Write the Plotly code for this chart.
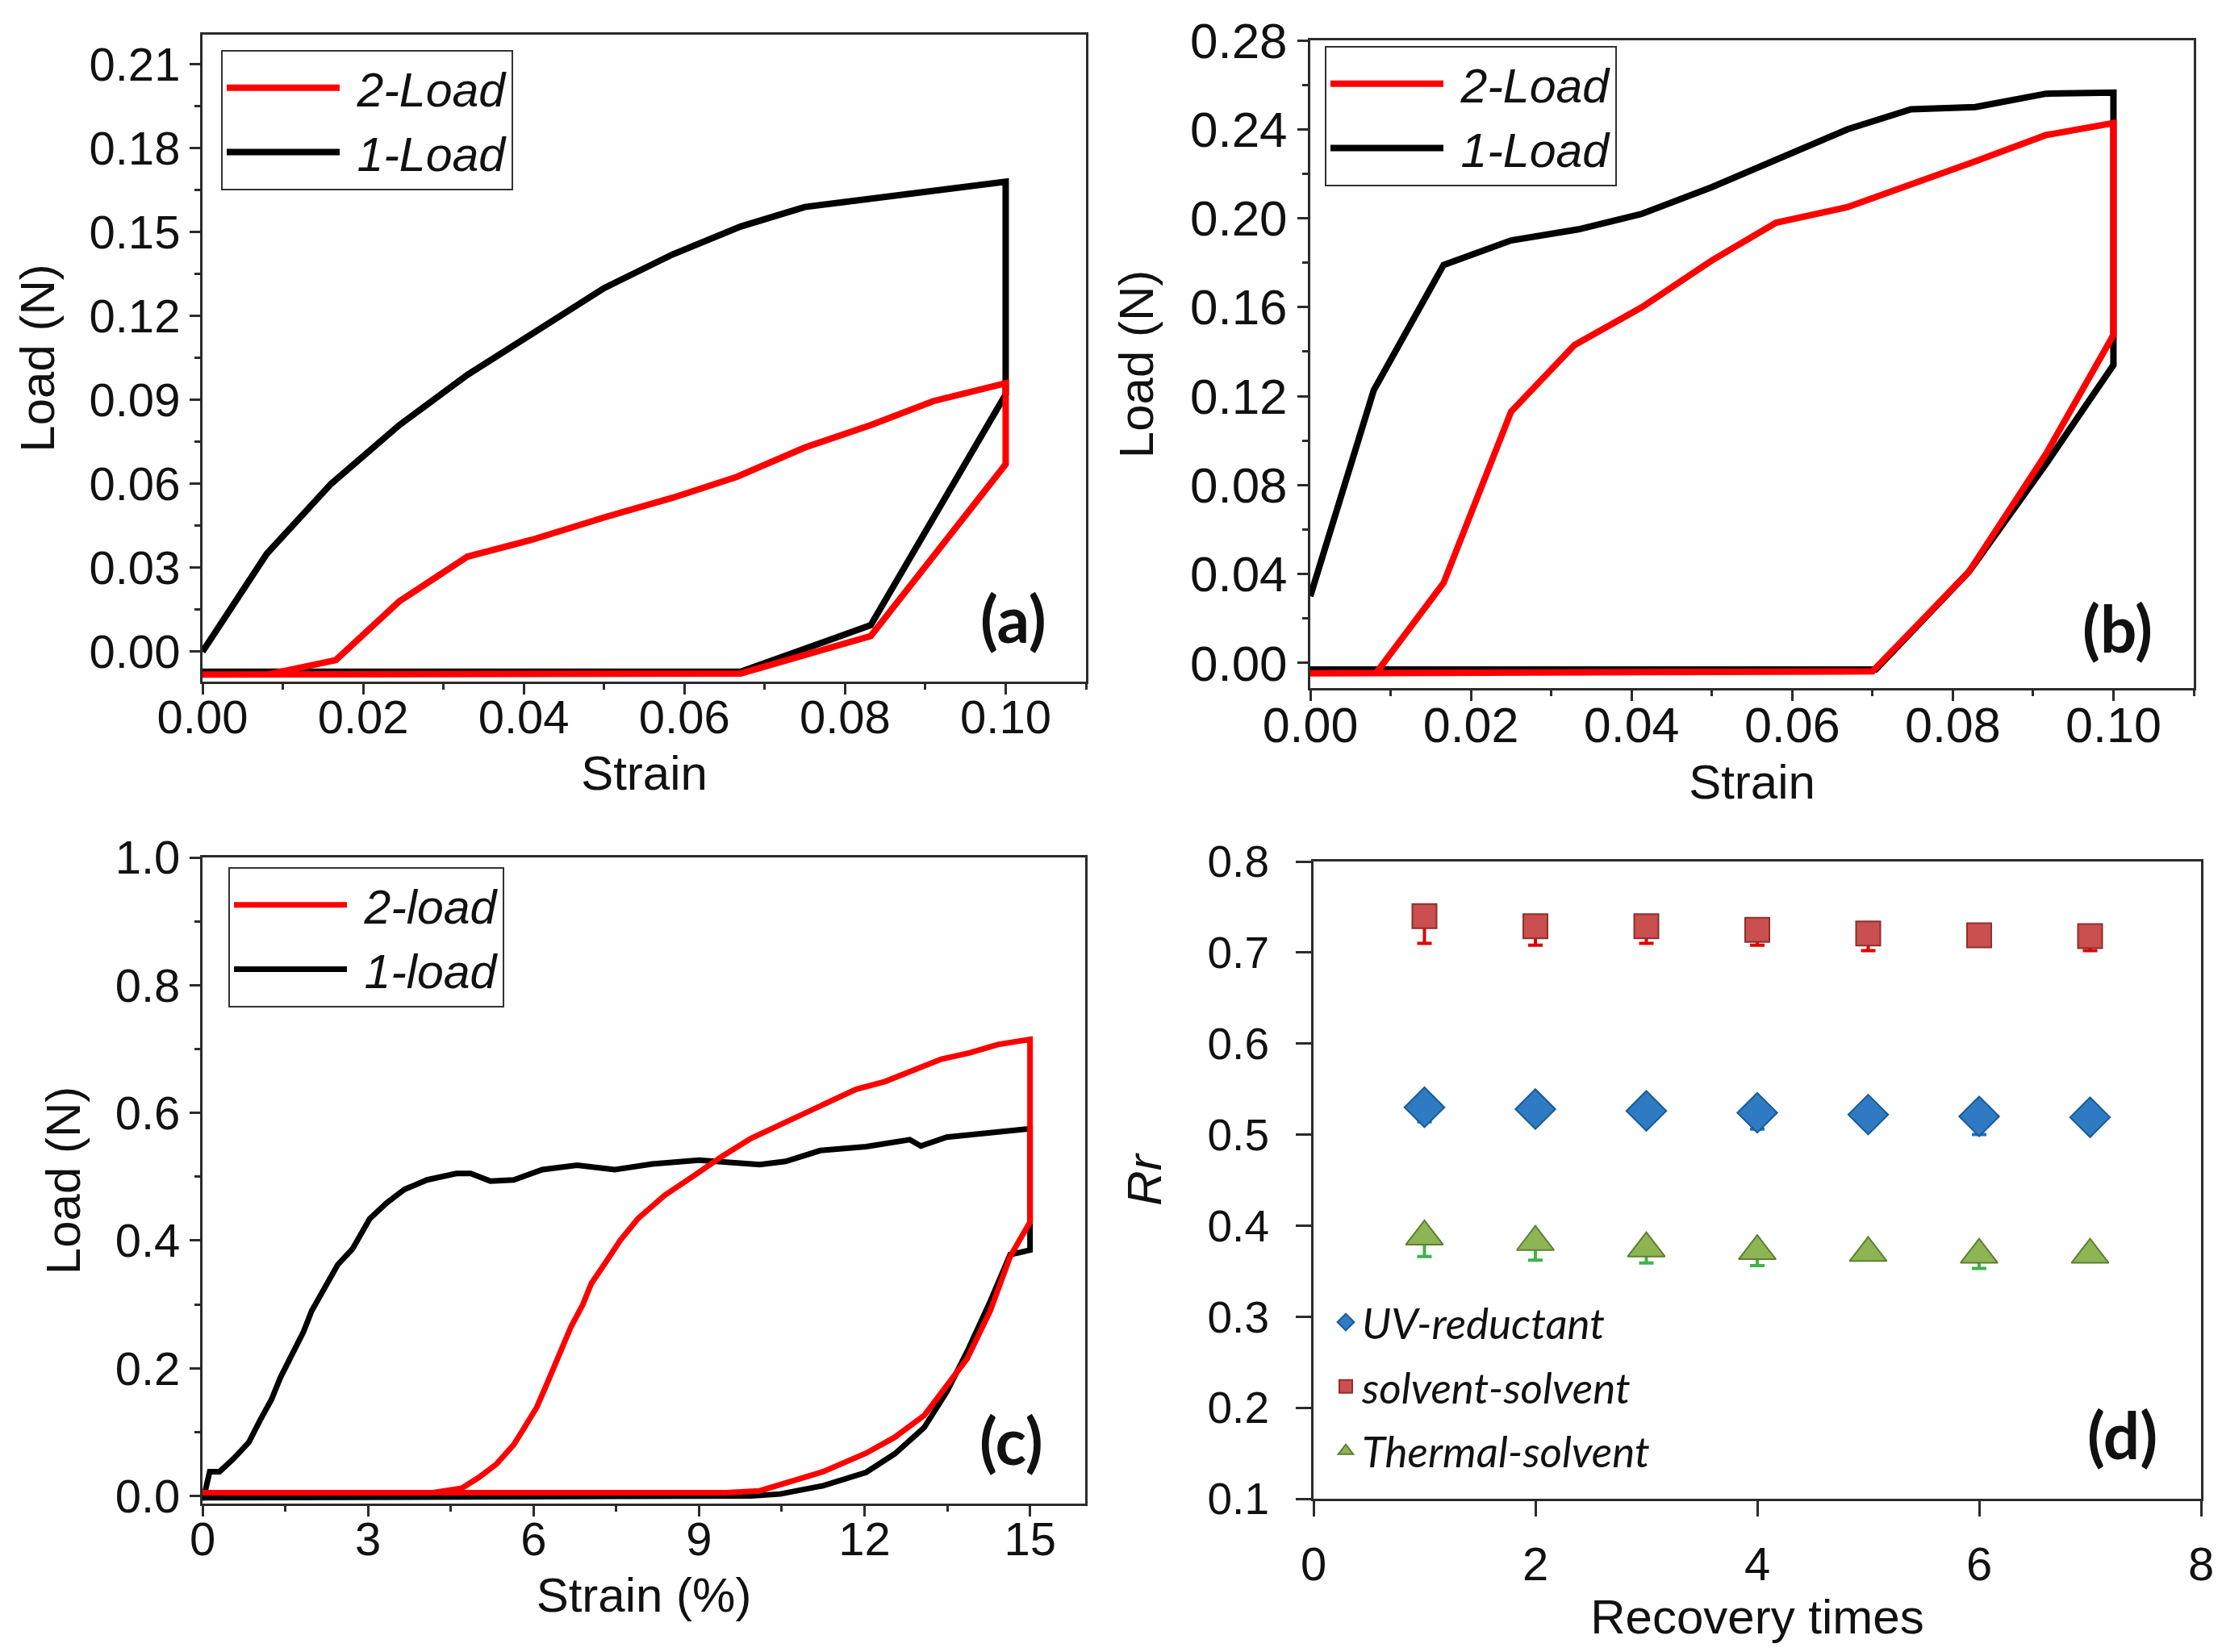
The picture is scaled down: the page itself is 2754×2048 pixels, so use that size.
import plotly.graph_objects as go

W, H = 2754, 2048

# ---------------- (a) ----------------
a_strain_1 = [0, 0.008, 0.016, 0.0245, 0.033, 0.0417, 0.050, 0.0585, 0.067, 0.075, 0.083, 0.091, 0.0995,
              0.100, 0.100, 0.0832, 0.067, 0.050, 0.0]
a_load_1 = [0, 0.035, 0.060, 0.081, 0.099, 0.115, 0.130, 0.142, 0.152, 0.159, 0.162, 0.165, 0.168,
            0.168, 0.092, 0.0095, -0.0072, -0.0072, -0.0072]
a_strain_2 = [0, 0.008, 0.0166, 0.0245, 0.033, 0.041, 0.050, 0.0585, 0.0665, 0.075, 0.0832, 0.091, 0.100,
              0.100, 0.0832, 0.067, 0.0]
a_load_2 = [-0.0082, -0.0082, -0.003, 0.018, 0.034, 0.040, 0.048, 0.055, 0.0625, 0.073, 0.081, 0.0896, 0.096,
            0.067, 0.0056, -0.0078, -0.0082]

# ---------------- (b) ----------------
b_strain_1 = [0, 0.0079, 0.0166, 0.025, 0.0334, 0.0413, 0.050, 0.0585, 0.0669, 0.0748, 0.0828, 0.0916, 0.100,
              0.100, 0.0916, 0.082, 0.0704, 0.0]
b_load_1 = [0.030, 0.1226, 0.179, 0.190, 0.195, 0.202, 0.214, 0.227, 0.240, 0.249, 0.250, 0.256, 0.2565,
            0.134, 0.0895, 0.041, -0.003, -0.003]
b_strain_2 = [0, 0.0082, 0.0166, 0.025, 0.0329, 0.0413, 0.050, 0.058, 0.0669, 0.0748, 0.0828, 0.0916, 0.100,
              0.100, 0.0916, 0.082, 0.070, 0.0]
b_load_2 = [-0.0047, -0.0045, 0.036, 0.113, 0.143, 0.160, 0.181, 0.198, 0.205, 0.215, 0.2256, 0.2374, 0.2428,
            0.1475, 0.094, 0.041, -0.0038, -0.0047]

# ---------------- (c) ----------------
c_strain_1 = [0, 0.05, 0.13, 0.31, 0.57, 0.84, 1.04, 1.25, 1.41, 1.62, 1.83, 1.98, 2.19, 2.45, 2.72, 3.03,
              3.34, 3.66, 4.07, 4.60, 4.86, 5.22, 5.64, 6.16, 6.79, 7.47, 8.15, 9.00, 10.10, 10.57, 11.20,
              12.03, 12.82, 13.02, 13.49, 14.12, 14.93, 15.0,
              15.0, 14.64, 14.28, 13.86, 13.49, 13.08, 12.55, 12.03, 11.25, 10.47, 9.94, 0.0]
c_load_1 = [0.0, 0.008, 0.038, 0.038, 0.059, 0.084, 0.118, 0.151, 0.185, 0.219, 0.257, 0.290, 0.324, 0.362,
            0.387, 0.434, 0.459, 0.480, 0.495, 0.505, 0.505, 0.493, 0.495, 0.511, 0.518, 0.511, 0.520, 0.526,
            0.519, 0.524, 0.541, 0.547, 0.558, 0.548, 0.562, 0.568, 0.575, 0.575,
            0.385, 0.378, 0.305, 0.226, 0.163, 0.107, 0.066, 0.037, 0.016, 0.003, 0.0, -0.003]
c_strain_2 = [0, 4.18, 4.70, 5.01, 5.33, 5.64, 5.85, 6.06, 6.27, 6.48, 6.68, 6.89, 7.05, 7.31, 7.57, 7.89,
              8.38, 8.90, 9.42, 9.94, 10.46, 10.99, 11.51, 11.85, 12.37, 12.88, 13.39, 13.91, 14.42, 15.0,
              15.0, 14.64, 14.28, 13.86, 13.49, 13.08, 12.55, 12.03, 11.25, 10.47, 10.10, 9.50, 0.0]
c_load_2 = [0.005, 0.005, 0.012, 0.029, 0.050, 0.080, 0.109, 0.139, 0.181, 0.223, 0.265, 0.299, 0.333, 0.366,
            0.400, 0.434, 0.471, 0.501, 0.532, 0.560, 0.581, 0.602, 0.623, 0.637, 0.649, 0.666, 0.684, 0.694,
            0.707, 0.715,
            0.429, 0.375, 0.290, 0.215, 0.172, 0.126, 0.092, 0.067, 0.038, 0.019, 0.008, 0.005, 0.005]

# ---------------- (d) ----------------
d_times = [1, 2, 3, 4, 5, 6, 7]
d_uv = [0.530, 0.528, 0.526, 0.524, 0.522, 0.520, 0.519]
d_uv_err = [0.016, 0.013, 0.010, 0.018, 0.014, 0.020, 0.0]
d_solvent = [0.740, 0.729, 0.729, 0.725, 0.721, 0.719, 0.718]
d_solvent_err = [0.030, 0.021, 0.019, 0.017, 0.019, 0.0, 0.016]
d_thermal = [0.388, 0.382, 0.375, 0.372, 0.370, 0.368, 0.368]
d_thermal_err = [0.022, 0.020, 0.016, 0.016, 0.0, 0.015, 0.0]

RED = "#FF0000"
BLACK = "#000000"
AXC = "#2b2b2b"
FAM = "Liberation Sans, Arial"
TITLEFONT = dict(family=FAM, size=60, color="#111111")
LEGFONT = dict(family=FAM, size=59, color="#111111", style="italic")
NB = "&nbsp;"

fig = go.Figure()

def add_pair(xs1, ys1, xs2, ys2, xa, ya, leg, names, lw):
    fig.add_trace(go.Scatter(x=xs1, y=ys1, mode="lines", name=NB + names[1],
                             line=dict(color=BLACK, width=lw), xaxis=xa, yaxis=ya, legend=leg,
                             legendrank=2))
    fig.add_trace(go.Scatter(x=xs2, y=ys2, mode="lines", name=NB + names[0],
                             line=dict(color=RED, width=lw), xaxis=xa, yaxis=ya, legend=leg,
                             legendrank=1))

add_pair(a_strain_1, a_load_1, a_strain_2, a_load_2, "x", "y", "legend", ["2-Load", "1-Load"], 8)
add_pair(b_strain_1, b_load_1, b_strain_2, b_load_2, "x2", "y2", "legend2", ["2-Load", "1-Load"], 8)
add_pair(c_strain_1, c_load_1, c_strain_2, c_load_2, "x3", "y3", "legend3", ["2-load", "1-load"], 7)

def add_d(name, ys, errs, symbol, color, lcolor, ecolor, size):
    fig.add_trace(go.Scatter(
        x=d_times, y=ys, mode="markers", name=name, xaxis="x4", yaxis="y4", legend="legend4",
        legendgroup=name,
        marker=dict(symbol=symbol, size=size, color=color, line=dict(color=lcolor, width=2)),
        error_y=dict(type="data", symmetric=False, array=[0] * len(errs), arrayminus=errs,
                     color=ecolor, thickness=4, width=9),
    ))

add_d("UV-reductant", d_uv, d_uv_err, "diamond", "#2E7BC4", "#1B5A94", "#1874C4", 38)
add_d("solvent-solvent", d_solvent, d_solvent_err, "square", "#C9504E", "#8E2F2D", "#E00000", 30)
add_d("Thermal-solvent", d_thermal, d_thermal_err, "triangle-up", "#8DB553", "#5E7F33", "#3FB34A", 40)


def px_dom(a, b):
    return [a / W, b / W]

def py_dom(top, bottom):
    return [1 - bottom / H, 1 - top / H]

def axis(dom, rng, dtick, minor, fmt, title, anchor, ticklen=13, tsize=58, lstand=0, tstand=18,
         tfont=None):
    d = dict(domain=dom, range=rng, dtick=dtick, tick0=0, tickformat=fmt, showline=True, linecolor=AXC,
             linewidth=3, mirror=True, ticks="outside", ticklen=ticklen, tickwidth=3, tickcolor=AXC,
             tickfont=dict(family=FAM, size=tsize, color="#111111"), showgrid=False, zeroline=False,
             anchor=anchor, ticklabelstandoff=lstand,
             title=dict(text=title, font=tfont or TITLEFONT, standoff=tstand), automargin=False)
    if minor:
        d["minor"] = dict(dtick=minor, tick0=0, ticks="outside", ticklen=7, tickwidth=3, tickcolor=AXC,
                          showgrid=False)
    return d

legend_common = dict(font=LEGFONT, bgcolor="white", bordercolor="#333333", borderwidth=2,
                     xanchor="left", yanchor="top", itemwidth=140, tracegroupgap=0,
                     traceorder="normal", xref="paper", yref="paper")

fig.update_layout(
    width=W, height=H, margin=dict(l=0, r=0, t=0, b=0),
    paper_bgcolor="white", plot_bgcolor="white",
    xaxis=axis(px_dom(243, 1338), [0, 0.11], 0.02, 0.01, ".2f", "Strain", "y", lstand=-22, tstand=18),
    yaxis=axis(py_dom(35, 837), [-0.0107, 0.2206], 0.03, 0.015, ".2f", "Load (N)", "x", tstand=24),
    xaxis2=axis(px_dom(1616, 2711), [0, 0.11], 0.02, 0.01, ".2f", "Strain", "y2", lstand=-22, tstand=16,
                tsize=61),
    yaxis2=axis(py_dom(42, 845), [-0.0113, 0.28], 0.04, 0.02, ".2f", "Load (N)", "x2", tstand=26, tsize=62),
    xaxis3=axis(px_dom(243, 1337), [0, 16], 3, 1.5, "d", "Strain (%)", "y3", lstand=-22, tstand=18),
    yaxis3=axis(py_dom(1055, 1856), [-0.012, 1.0], 0.2, 0.1, ".1f", "Load (N)", "x3", tstand=24),
    xaxis4=axis(px_dom(1620, 2720), [0, 8], 2, None, "d", "Recovery times", "y4", ticklen=19,
                lstand=9, tstand=0),
    yaxis4=axis(py_dom(1060, 1850), [0.1, 0.8], 0.1, None, ".1f", "<i>Rr</i>", "x4", ticklen=19,
                lstand=22, tstand=38, tsize=55),
    legend=dict(x=266 / W, y=1 - 54 / H, **legend_common),
    legend2=dict(x=1634 / W, y=1 - 49 / H, **legend_common),
    legend3=dict(x=275 / W, y=1 - 1067 / H, **legend_common),
    legend4=dict(x=1640 / W, y=1 - 1590 / H, xanchor="left", yanchor="top", bgcolor="rgba(0,0,0,0)",
                 borderwidth=0, tracegroupgap=8, itemsizing="trace", itemwidth=30,
                 font=dict(family="Lato, Carlito, Calibri", size=53, color="#111111", style="italic")),
    showlegend=True,
)

labels = [("(a)", 1248, 758), ("(b)", 2616, 770), ("(c)", 1245, 1777), ("(d)", 2622, 1770)]
for txt, lx, ly in labels:
    fig.add_annotation(text="<b>" + txt + "</b>", x=lx / W, y=1 - ly / H, xref="paper", yref="paper",
                       showarrow=False, xanchor="center", yanchor="middle",
                       font=dict(family="Lato, Carlito, Calibri", size=80, color="#111111"))

fig.write_html("out.html")
